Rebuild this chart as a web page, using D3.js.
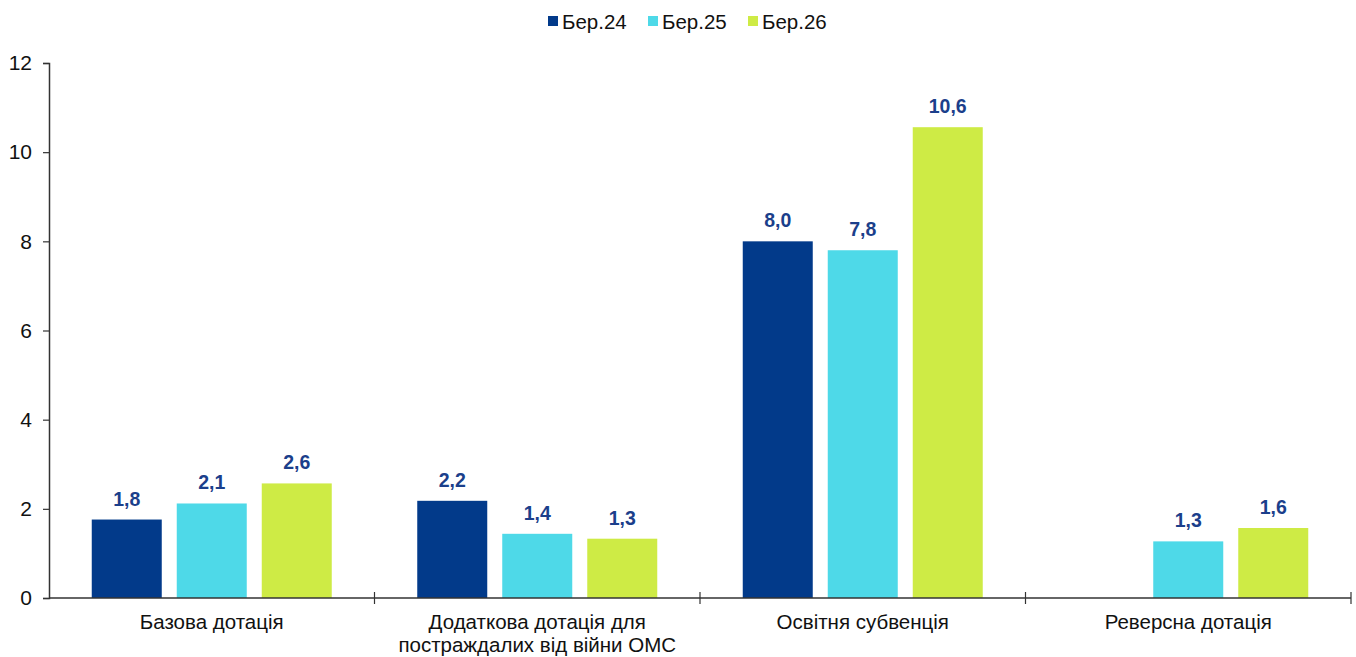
<!DOCTYPE html>
<html><head><meta charset="utf-8">
<script src="https://cdn.jsdelivr.net/npm/d3@7/dist/d3.min.js"></script>
<style>body{margin:0;background:#fff;} svg{display:block;font-family:"Liberation Sans",Arial,sans-serif;}</style>
</head><body><svg id="c" width="1356" height="657"></svg>
<script>
const categories = [["Базова дотація"], ["Додаткова дотація для", "постраждалих від війни ОМС"], ["Освітня субвенція"], ["Реверсна дотація"]];
const seriesNames = ["Бер.24", "Бер.25", "Бер.26"];
const ber24 = [1.76, 2.18, 8.0, null];
const ber25 = [2.12, 1.44, 7.8, 1.27];
const ber26 = [2.57, 1.33, 10.56, 1.57];
const yTicks = [0, 2, 4, 6, 8, 10, 12];
const colors = ["#023a8a", "#4ed9e8", "#ceeb45"];

(function(){
const series = [ber24, ber25, ber26];
const svg = d3.select("#c");
const mL = 49, mR = 1351, mT = 63, mB = 598;
const y = d3.scaleLinear().domain([0, 12]).range([mB, mT]);
const x0 = d3.scaleBand().domain(d3.range(categories.length)).range([mL, mR]).paddingInner(0).paddingOuter(0);
const x1 = d3.scaleBand().domain(d3.range(3)).range([0, 240]).paddingInner(15/85).paddingOuter(0);
const offset = (x0.bandwidth() - 240) / 2;

// y axis
const yAxis = svg.append("g").attr("transform", `translate(${mL},0)`)
  .call(d3.axisLeft(y).tickValues(yTicks).tickSize(6).tickPadding(11).tickFormat(d3.format("d")));
yAxis.select(".domain").attr("stroke", "#333").attr("stroke-width", 1.5);
yAxis.selectAll(".tick line").attr("stroke", "#333").attr("stroke-width", 1.2);
yAxis.selectAll(".tick text").attr("font-size", 21).attr("fill", "#111").attr("font-family", "Liberation Sans, Arial, sans-serif");

// bars
const g = svg.append("g");
categories.forEach((c, i) => {
  series.forEach((s, j) => {
    const v = s[i];
    if (v == null) return;
    const bx = x0(i) + offset + x1(j);
    g.append("rect").attr("x", bx).attr("width", x1.bandwidth())
      .attr("y", y(v)).attr("height", y(0) - y(v)).attr("fill", colors[j]);
    g.append("text").attr("x", bx + x1.bandwidth() / 2).attr("y", y(v) - 14)
      .attr("text-anchor", "middle").attr("font-size", 19.5).attr("font-weight", "bold")
      .attr("fill", "#1b3f8b").text(d3.format(".1f")(v).replace(".", ","));
  });
});

// x axis
const xa = svg.append("g");
xa.append("line").attr("x1", mL).attr("x2", mR).attr("y1", mB).attr("y2", mB).attr("stroke", "#333").attr("stroke-width", 1.5);
categories.forEach((c, i) => {
  const xr = x0(i) + x0.bandwidth();
  xa.append("line").attr("x1", xr).attr("x2", xr).attr("y1", mB - 6).attr("y2", mB + 6).attr("stroke", "#333").attr("stroke-width", 1.2);
  const t = xa.append("text").attr("text-anchor", "middle").attr("font-size", 20.5).attr("fill", "#111");
  c.forEach((line, k) => {
    t.append("tspan").attr("x", x0(i) + x0.bandwidth() / 2).attr("y", 629 + k * 23).text(line);
  });
});

// legend
const legX = [548, 648, 748];
seriesNames.forEach((n, j) => {
  svg.append("rect").attr("x", legX[j]).attr("y", 16).attr("width", 10).attr("height", 10).attr("fill", colors[j]);
  svg.append("text").attr("x", legX[j] + 14).attr("y", 28.5).attr("font-size", 20.5).attr("fill", "#111").text(n);
});
})();
</script></body></html>
